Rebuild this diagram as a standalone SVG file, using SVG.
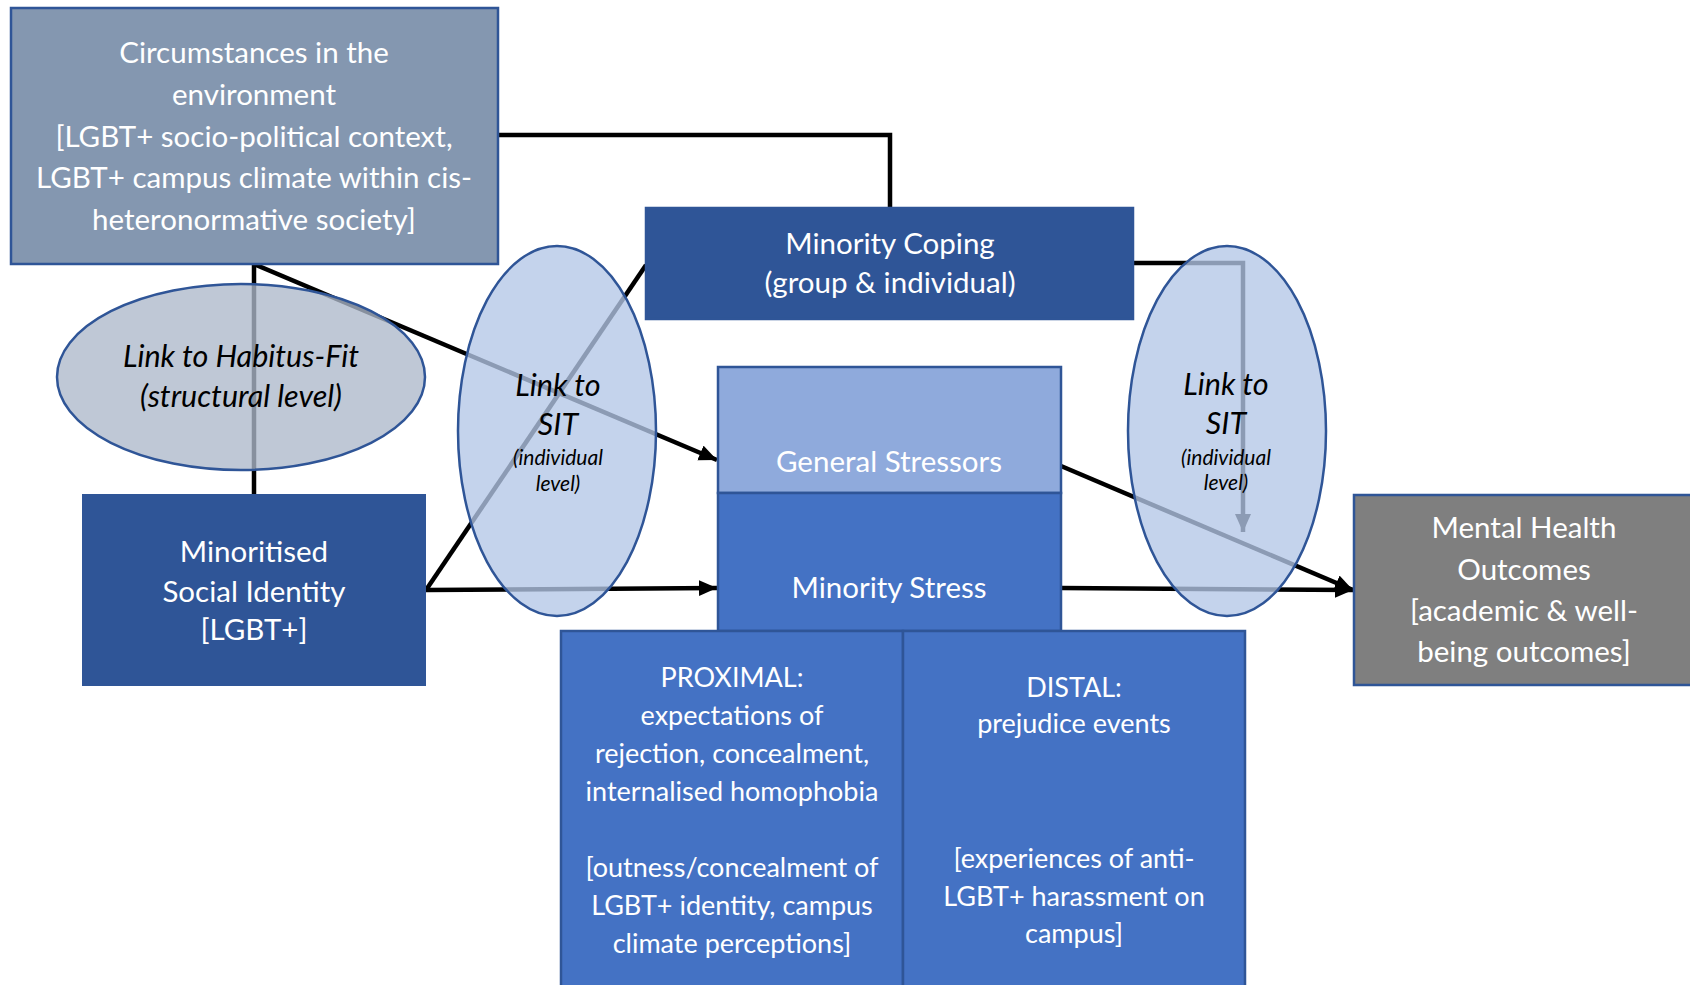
<svg xmlns="http://www.w3.org/2000/svg" width="1690" height="985" viewBox="0 0 1690 985">
  <style>
    .box { stroke: #2F5597; stroke-width: 2.5; }
    .lbl { font-family: Lato, "Liberation Sans", sans-serif; font-size: 29.5px; fill: #FFFFFF; text-anchor: middle; }
    .tight { font-size: 27px; }
    .ital { font-family: Lato, "Liberation Sans", sans-serif; font-style: italic; font-size: 30.5px; fill: #000000; text-anchor: middle; }
    .small { font-size: 21px; }
    .wire { fill: none; stroke: #000000; stroke-width: 4.5; stroke-linejoin: miter; }
    .oval { stroke: #2F5597; stroke-width: 2.5; }
  </style>
  <defs>
    <marker id="head" markerUnits="userSpaceOnUse" markerWidth="20" markerHeight="18" refX="18" refY="8" orient="auto">
      <path d="M0,0 L18,8 L0,16 z" fill="#000000"/>
    </marker>
  </defs>
  <rect width="1690" height="985" fill="#FFFFFF"/>

  <!-- connectors -->
  <g id="connectors">
    <polyline class="wire" points="498,135 890,135 890,208"/>
    <line class="wire" x1="254" y1="264" x2="254" y2="494"/>
    <line class="wire" x1="254" y1="264" x2="717" y2="460" marker-end="url(#head)"/>
    <line class="wire" x1="426" y1="590" x2="717" y2="588" marker-end="url(#head)"/>
    <line class="wire" x1="426" y1="590" x2="646" y2="265"/>
    <polyline class="wire" points="1133,263 1243,263 1243,532" marker-end="url(#head)"/>
    <line class="wire" x1="1061" y1="466" x2="1353" y2="590" marker-end="url(#head)"/>
    <line class="wire" x1="1061" y1="588" x2="1353" y2="590" marker-end="url(#head)"/>
  </g>

  <!-- environment -->
  <g id="circumstances">
    <rect class="box" x="11" y="8" width="487" height="256" fill="#8497B0"/>
    <text class="lbl" x="254" y="63">Circumstances in the</text>
    <text class="lbl" x="254" y="105">environment</text>
    <text class="lbl" x="254" y="147">[LGBT+ socio-political context,</text>
    <text class="lbl" x="254" y="188">LGBT+ campus climate within cis-</text>
    <text class="lbl" x="254" y="230">heteronormative society]</text>
  </g>

  <g id="minority-coping">
    <rect class="box" x="646" y="208" width="487" height="111" fill="#2F5597"/>
    <text class="lbl" x="890" y="254">Minority Coping</text>
    <text class="lbl" x="890" y="293">(group &amp; individual)</text>
  </g>

  <g id="general-stressors">
    <rect class="box" x="718" y="367" width="343" height="126" fill="#8FAADC"/>
    <text class="lbl" x="889" y="472">General Stressors</text>
  </g>

  <g id="minority-stress">
    <rect class="box" x="718" y="493" width="343" height="138" fill="#4472C4"/>
    <text class="lbl" x="889" y="598">Minority Stress</text>
  </g>

  <g id="proximal">
    <rect class="box" x="561" y="631" width="342" height="360" fill="#4472C4"/>
    <text class="lbl tight" x="732" y="687">PROXIMAL:</text>
    <text class="lbl tight" x="732" y="725">expectations of</text>
    <text class="lbl tight" x="732" y="763">rejection, concealment,</text>
    <text class="lbl tight" x="732" y="801">internalised homophobia</text>
    <text class="lbl tight" x="732" y="877">[outness/concealment of</text>
    <text class="lbl tight" x="732" y="915">LGBT+ identity, campus</text>
    <text class="lbl tight" x="732" y="953">climate perceptions]</text>
  </g>

  <g id="distal">
    <rect class="box" x="903" y="631" width="342" height="360" fill="#4472C4"/>
    <text class="lbl tight" x="1074" y="697">DISTAL:</text>
    <text class="lbl tight" x="1074" y="733">prejudice events</text>
    <text class="lbl tight" x="1074" y="868">[experiences of anti-</text>
    <text class="lbl tight" x="1074" y="906">LGBT+ harassment on</text>
    <text class="lbl tight" x="1074" y="943">campus]</text>
  </g>

  <g id="minoritised-identity">
    <rect x="82" y="494" width="344" height="192" fill="#2F5597"/>
    <text class="lbl" x="254" y="562">Minoritised</text>
    <text class="lbl" x="254" y="602">Social Identity</text>
    <text class="lbl" x="254" y="640">[LGBT+]</text>
  </g>

  <g id="mental-health">
    <rect class="box" x="1354" y="495" width="340" height="190" fill="#7F7F7F"/>
    <text class="lbl" x="1524" y="538">Mental Health</text>
    <text class="lbl" x="1524" y="580">Outcomes</text>
    <text class="lbl" x="1524" y="621">[academic &amp; well-</text>
    <text class="lbl" x="1524" y="662">being outcomes]</text>
  </g>

  <!-- translucent link ovals sit above the connectors -->
  <g id="habitus-fit">
    <ellipse class="oval" cx="241" cy="377" rx="184" ry="93" fill="#ADB9CA" fill-opacity="0.78"/>
    <text class="ital" x="241" y="367">Link to Habitus-Fit</text>
    <text class="ital" x="241" y="407">(structural level)</text>
  </g>

  <g id="sit-left">
    <ellipse class="oval" cx="557" cy="431" rx="99" ry="185" fill="#B4C7E7" fill-opacity="0.78"/>
    <text class="ital" x="558" y="396">Link to</text>
    <text class="ital" x="558" y="435">SIT</text>
    <text class="ital small" x="558" y="465">(individual</text>
    <text class="ital small" x="558" y="491">level)</text>
  </g>

  <g id="sit-right">
    <ellipse class="oval" cx="1227" cy="431" rx="99" ry="185" fill="#B4C7E7" fill-opacity="0.78"/>
    <text class="ital" x="1226" y="395">Link to</text>
    <text class="ital" x="1226" y="434">SIT</text>
    <text class="ital small" x="1226" y="465">(individual</text>
    <text class="ital small" x="1226" y="490">level)</text>
  </g>
</svg>
